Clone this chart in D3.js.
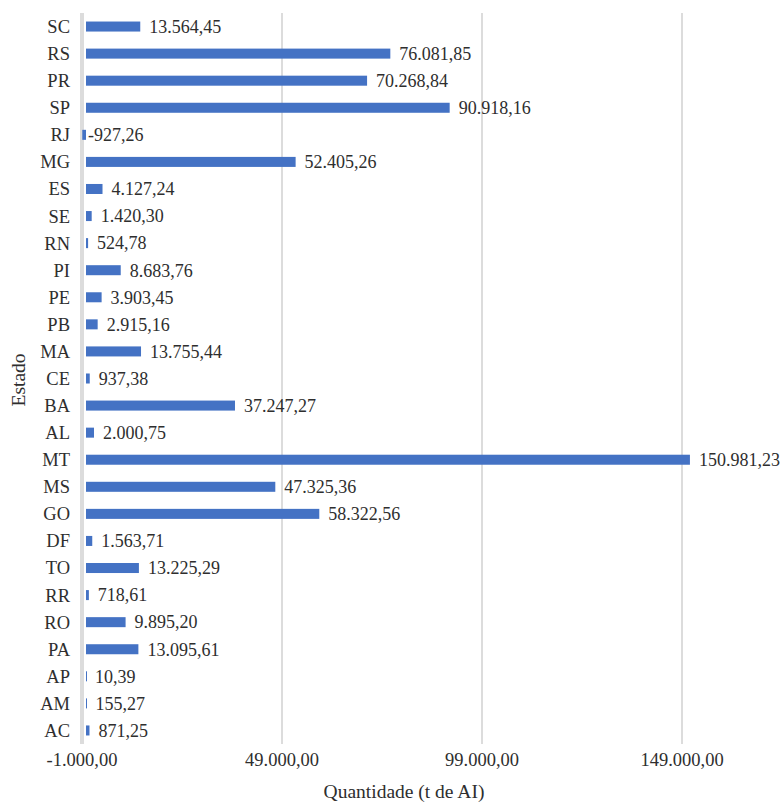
<!DOCTYPE html>
<html>
<head>
<meta charset="utf-8">
<script src="https://cdn.jsdelivr.net/npm/d3@7"></script>
<style>
  body { margin: 0; background: #fff; }
</style>
</head>
<body>
<svg width="782" height="803"></svg>
<script>
var estados = ['SC','RS','PR','SP','RJ','MG','ES','SE','RN','PI','PE','PB','MA','CE','BA','AL','MT','MS','GO','DF','TO','RR','RO','PA','AP','AM','AC'];
var quantidade = [13564.45, 76081.85, 70268.84, 90918.16, -927.26, 52405.26, 4127.24, 1420.30, 524.78, 8683.76, 3903.45, 2915.16, 13755.44, 937.38, 37247.27, 2000.75, 150981.23, 47325.36, 58322.56, 1563.71, 13225.29, 718.61, 9895.20, 13095.61, 10.39, 155.27, 871.25];
var ticks = [-1000, 49000, 99000, 149000];

var svg = d3.select('svg')
    .attr('font-family', "'Liberation Serif', 'Times New Roman', Times, 'DejaVu Serif', serif")
    .attr('fill', '#2e2e2e');
var fmt = d3.formatLocale({decimal: ',', thousands: '.', grouping: [3], currency: ['', ''], minus: '-'}).format(',.2f');

// x(-1000) ~ 82, 200px per 50.000
var x = d3.scaleLinear().domain([-1000, 199000]).range([82, 882]);
var y = d3.scaleBand().domain(estados).range([13, 744]).paddingInner(0.63).paddingOuter(0.315);

// gridlines
svg.append('g').selectAll('line')
    .data(ticks)
  .enter().append('line')
    .attr('x1', function(d){ return x(d); })
    .attr('x2', function(d){ return x(d); })
    .attr('y1', 13)
    .attr('y2', 744)
    .attr('stroke', '#dcdcdc')
    .attr('stroke-width', function(d, i){ return i === 0 ? 4 : 2; });

// bars
svg.append('g').selectAll('rect')
    .data(quantidade)
  .enter().append('rect')
    .attr('x', function(d){ return x(Math.min(0, d)); })
    .attr('width', function(d){ return Math.max(1, Math.abs(x(d) - x(0))); })
    .attr('y', function(d, i){ return y(estados[i]); })
    .attr('height', y.bandwidth())
    .attr('fill', '#4472c4');

// value labels
svg.append('g').selectAll('text')
    .data(quantidade)
  .enter().append('text')
    .attr('x', function(d){ return d < 0 ? x(0) + 2 : x(d) + 9; })
    .attr('y', function(d, i){ return y(estados[i]) + y.bandwidth()/2; })
    .attr('dy', '0.35em')
    .attr('font-size', 18)
    .text(function(d){ return fmt(d); });

// category labels
svg.append('g').selectAll('text')
    .data(estados)
  .enter().append('text')
    .attr('x', 70)
    .attr('y', function(d){ return y(d) + y.bandwidth()/2; })
    .attr('dy', '0.35em')
    .attr('text-anchor', 'end')
    .attr('font-size', 18.5)
    .text(function(d){ return d; });

// tick labels
svg.append('g').selectAll('text')
    .data(ticks)
  .enter().append('text')
    .attr('x', function(d){ return x(d); })
    .attr('y', 766)
    .attr('text-anchor', 'middle')
    .attr('font-size', 18.5)
    .text(function(d){ return fmt(d); });

svg.append('text')
    .attr('x', 404)
    .attr('y', 798)
    .attr('text-anchor', 'middle')
    .attr('font-size', 19.5)
    .text('Quantidade (t de AI)');

svg.append('text')
    .attr('transform', 'translate(25,380) rotate(-90)')
    .attr('text-anchor', 'middle')
    .attr('font-size', 19.5)
    .text('Estado');
</script>
</body>
</html>
